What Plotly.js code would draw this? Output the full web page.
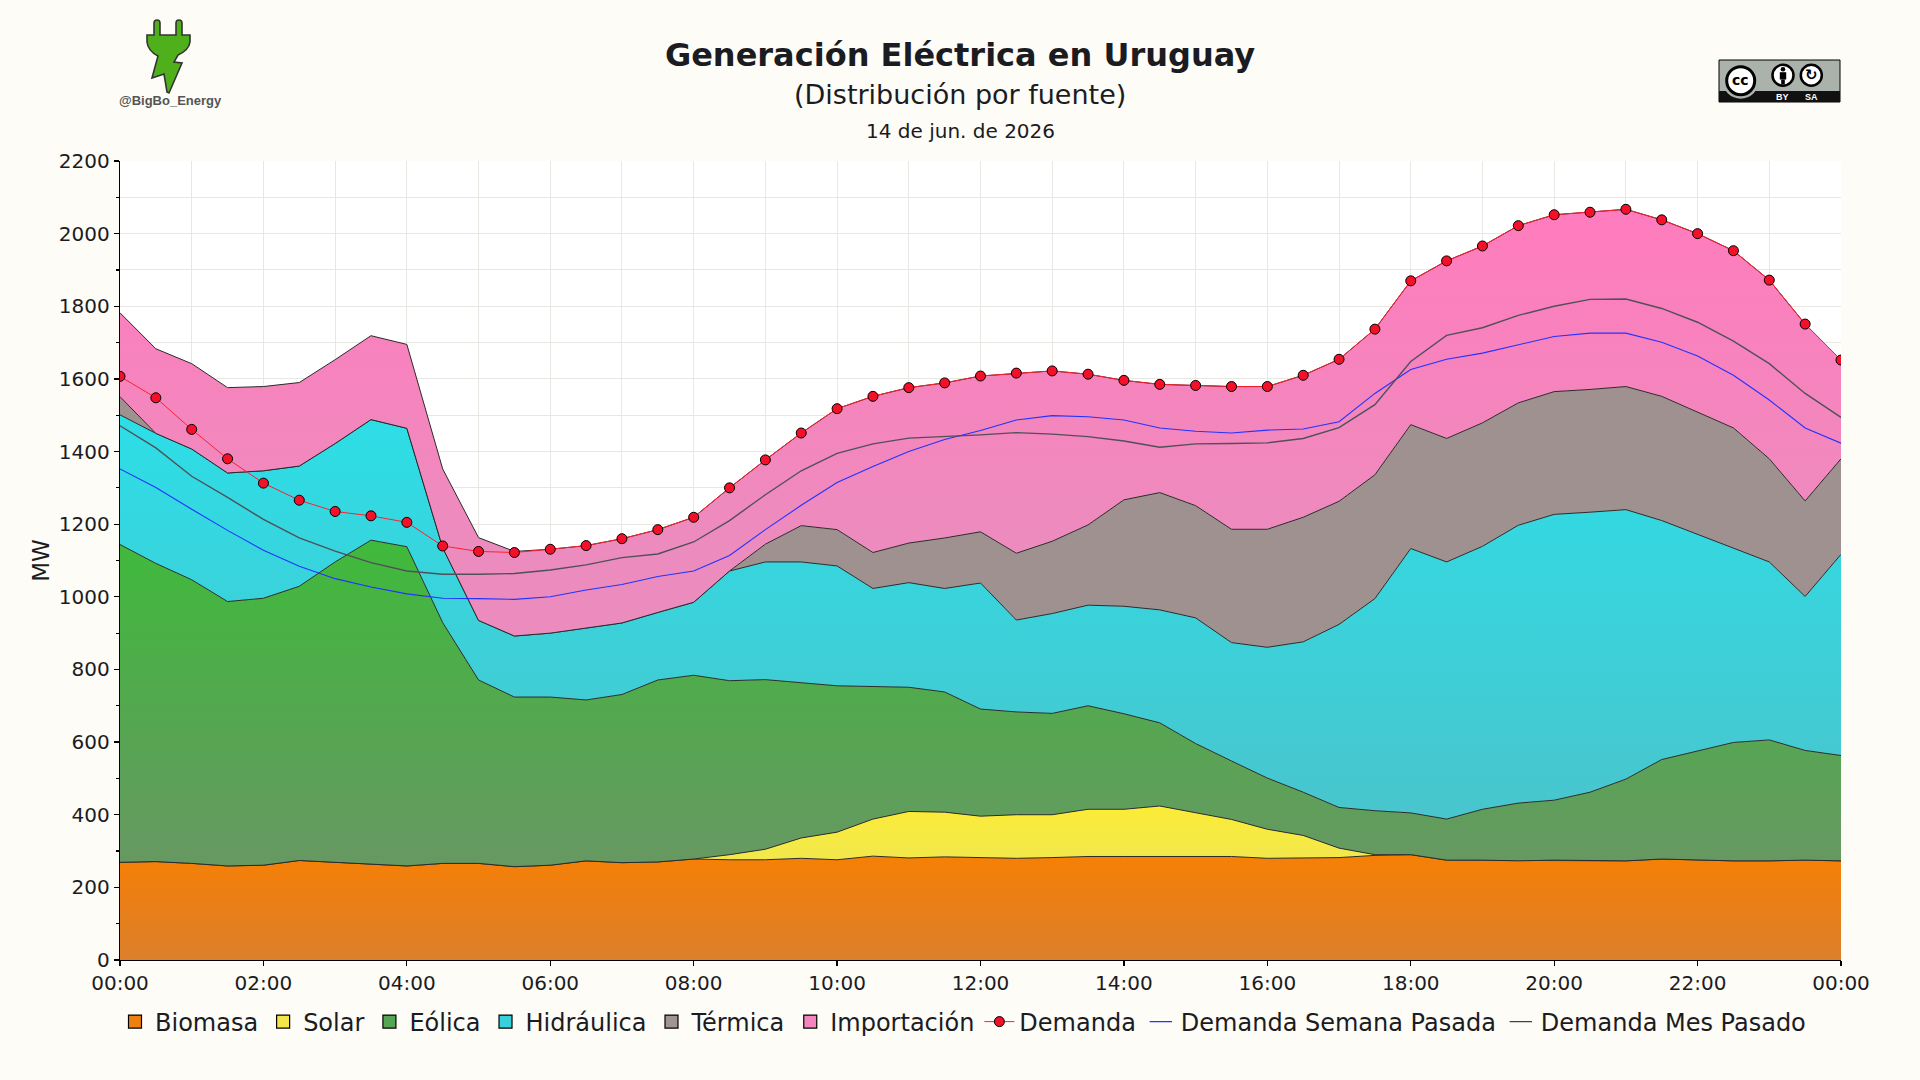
<!DOCTYPE html>
<html>
<head>
<meta charset="utf-8">
<script src="https://cdn.plot.ly/plotly-3.0.1.min.js"></script>
<style>
  html, body { margin: 0; padding: 0; background: #FDFCF7; }
  #chart { width: 1920px; height: 1080px; }
</style>
</head>
<body>
<div id="chart"></div>
<script>
// ---- Data (MW, every 30 minutes) ----
const times = ['00:00','00:30','01:00','01:30','02:00','02:30','03:00','03:30','04:00','04:30',
               '05:00','05:30','06:00','06:30','07:00','07:30','08:00','08:30','09:00','09:30',
               '10:00','10:30','11:00','11:30','12:00','12:30','13:00','13:30','14:00','14:30',
               '15:00','15:30','16:00','16:30','17:00','17:30','18:00','18:30','19:00','19:30',
               '20:00','20:30','21:00','21:30','22:00','22:30','23:00','23:30','24:00'];

const biomasa = [269,271,266,259,261,274,269,264,259,266,
                 266,257,261,273,268,270,278,276,276,280,
                 276,286,281,284,281,280,282,285,285,285,
                 285,285,280,282,282,288,290,275,275,273,
                 275,275,273,278,275,273,273,275,273];

const solar = [0,0,0,0,0,0,0,0,0,0,
               0,0,0,0,0,0,0,14,29,56,
               76,102,128,123,115,120,118,130,130,139,
               120,102,80,61,26,2,0,0,0,0,
               0,0,0,0,0,0,0,0,0];

const eolica = [875,821,781,728,735,755,827,892,879,663,
                505,467,463,443,463,501,506,479,467,428,
                403,365,342,331,295,283,279,285,263,229,
                191,161,141,119,112,121,115,113,140,159,
                165,187,225,274,301,326,333,302,290];

const hidraulica = [357,358,360,354,351,331,326,332,326,206,
                    164,168,176,199,197,186,201,302,324,332,
                    330,270,288,285,347,253,275,277,296,311,
                    346,326,360,414,504,584,728,708,724,765,
                    787,771,742,658,596,534,490,424,554];

const termica = [50,0,0,0,0,0,0,0,0,0,
                 0,0,0,0,0,0,0,0,49,100,
                 100,99,109,139,141,184,199,221,293,323,
                 309,312,325,343,339,341,341,340,340,337,
                 338,338,339,342,336,332,284,263,263];

const importacion = [231,233,235,235,232,230,231,231,231,217,
                     228,233,231,226,232,228,234,229,232,255,
                     333,430,428,427,429,496,469,415,329,298,
                     331,393,393,391,391,401,396,489,487,488,
                     487,488,488,486,492,488,492,487,272];

const demanda = [1607,1548,1461,1380,1313,1266,1235,1223,1205,1140,
                 1125,1122,1131,1141,1160,1185,1219,1300,1377,1451,
                 1518,1552,1576,1589,1608,1616,1622,1613,1596,1585,
                 1582,1579,1579,1610,1654,1737,1870,1925,1966,2022,
                 2052,2059,2067,2038,2000,1953,1872,1751,1652];

const semanaPasada = [1352,1301,1241,1183,1128,1084,1050,1027,1008,996,
                      995,993,1000,1019,1034,1056,1071,1114,1185,1252,
                      1315,1359,1400,1433,1458,1487,1499,1496,1487,1465,
                      1456,1451,1459,1462,1482,1560,1626,1654,1671,1693,
                      1717,1726,1726,1701,1663,1610,1542,1465,1423];

const mesPasado = [1471,1410,1332,1274,1213,1162,1126,1094,1071,1062,
                   1062,1064,1074,1088,1108,1118,1151,1210,1281,1347,
                   1395,1421,1437,1441,1446,1452,1448,1441,1429,1412,
                   1421,1422,1424,1436,1466,1529,1648,1720,1741,1775,
                   1800,1819,1820,1794,1756,1704,1642,1560,1494];

const tickVals = [0,2,4,6,8,10,12,14,16,18,20,22,24];
const tickText = ['00:00','02:00','04:00','06:00','08:00','10:00','12:00','14:00','16:00','18:00','20:00','22:00','00:00'];

// x positions in hours parsed from the time labels
const hours = times.map(t => { const p = t.split(':'); return +p[0] + (+p[1]) / 60; });

// ---- Layout geometry helpers (pixels -> paper) ----
const L = 120, R = 1841, T = 161, B = 960;
const fx = px => (px - L) / (R - L);
const fy = py => (B - py) / (B - T);
const pxPath = s => s.replace(/(-?\d+\.?\d*),(-?\d+\.?\d*)/g,
  (m, a, b) => fx(+a).toFixed(5) + ',' + fy(+b).toFixed(5));
const circ = (cx, cy, r, fill, lineColor, lw) => ({
  type: 'circle', xref: 'paper', yref: 'paper',
  x0: fx(cx - r), x1: fx(cx + r), y0: fy(cy + r), y1: fy(cy - r),
  fillcolor: fill, line: { color: lineColor || fill, width: lw || 0 }, layer: 'above'
});
const rectPx = (x0, y0, x1, y1, fill, lineColor, lw) => ({
  type: 'rect', xref: 'paper', yref: 'paper',
  x0: fx(x0), x1: fx(x1), y0: fy(y1), y1: fy(y0),
  fillcolor: fill, line: { color: lineColor || fill, width: lw || 0 }, layer: 'above'
});

const FONT = 'DejaVu Sans, Verdana, sans-serif';
const edge = { color: '#2a2a2a', width: 1 };

function area(name, y, c0, c1, start, stop) {
  return {
    type: 'scatter', mode: 'lines', name: name, x: hours, y: y,
    stackgroup: 'gen', line: edge, fillcolor: c1,
    fillgradient: { type: 'vertical', colorscale: [[0, c0], [1, c1]], start: start, stop: stop },
    showlegend: false, legendgroup: name
  };
}
// legend-only square swatch (no data)
function swatch(name, color, rank) {
  return {
    type: 'scatter', mode: 'markers', name: name, x: [null], y: [null],
    marker: { symbol: 'square', size: 13, color: color, line: { color: '#000000', width: 1.2 } },
    legendrank: rank, legendgroup: name
  };
}
function lineSwatch(name, color, width, rank) {
  return {
    type: 'scatter', mode: 'markers', name: name, x: [null], y: [null],
    marker: { symbol: 'line-ew', size: 16, color: color, line: { color: color, width: width } },
    legendrank: rank, legendgroup: name
  };
}

const traces = [
  area('Biomasa', biomasa, '#DC7F2C', '#F68005', 0, 290),
  area('Solar', solar, '#F2E84C', '#FCEC36', 280, 430),
  area('Eólica', eolica, '#679862', '#3FBA3B', 260, 1160),
  area('Hidráulica', hidraulica, '#4BC3CB', '#2DDEE7', 300, 1500),
  area('Térmica', termica, '#9E918F', '#A0918F', 900, 1600),
  area('Importación', importacion, '#EC8CBE', '#FF7CBD', 1100, 2070),
  {
    type: 'scatter', mode: 'lines', name: 'Demanda Semana Pasada', x: hours, y: semanaPasada,
    line: { color: '#2233FF', width: 1.1 }, showlegend: false
  },
  {
    type: 'scatter', mode: 'lines', name: 'Demanda Mes Pasado', x: hours, y: mesPasado,
    line: { color: '#505058', width: 1.4 }, showlegend: false
  },
  {
    type: 'scatter', mode: 'lines+markers', name: 'Demanda', x: hours, y: demanda,
    line: { color: '#FF1F2E', width: 1 },
    marker: { color: '#F5102A', size: 10, line: { color: '#000000', width: 1 } },
    legendrank: 7
  },
  swatch('Biomasa', '#EE8012', 1),
  swatch('Solar', '#F4E54A', 2),
  swatch('Eólica', '#55A553', 3),
  swatch('Hidráulica', '#38D0DA', 4),
  swatch('Térmica', '#A09593', 5),
  swatch('Importación', '#F585BF', 6),
  lineSwatch('Demanda Semana Pasada', '#2233FF', 1.3, 8),
  lineSwatch('Demanda Mes Pasado', '#404048', 1.3, 9)
];

// Plug logo (decoration)
const plugPath = pxPath('M154,35 L154,23 Q154,20 157,20 Q160,20 160,23 L160,35 L176,35 L176,23 Q176,20 179,20 Q182,20 182,23 L182,35 L190,35 L190,42 Q189,50 178,55 L174,62 L182,63 L169,93 L167,92 L164,74 L152,78 L158,56 Q148,51 147,42 L147,35 Z');

const shapes = [
  { type: 'path', xref: 'paper', yref: 'paper', path: plugPath,
    fillcolor: '#50B01C', line: { color: '#333333', width: 1.6 }, layer: 'above' },
  // CC BY-SA badge
  rectPx(1719, 60, 1840, 102, '#ABB2AB', '#000000', 1),
  rectPx(1719, 91, 1840, 102, '#111111'),
  circ(1740.7, 80.7, 18, '#ABB2AB'),
  circ(1740.7, 80.7, 14, '#FFFFFF', '#000000', 3),
  circ(1783, 75.3, 10.5, '#FFFFFF', '#000000', 2.5),
  circ(1783, 69.3, 2.3, '#000000'),
  rectPx(1779.8, 72.2, 1786.2, 79.5, '#000000'),
  rectPx(1781.2, 79.5, 1784.8, 84.5, '#000000'),
  circ(1811.3, 75.3, 10.5, '#FFFFFF', '#000000', 2.5)
];

const annotations = [
  { xref: 'paper', yref: 'paper', x: fx(960), y: fy(95), text: '(Distribución por fuente)',
    showarrow: false, xanchor: 'center', yanchor: 'middle',
    font: { family: FONT, size: 27, color: '#1b1b22' } },
  { xref: 'paper', yref: 'paper', x: fx(960), y: fy(131), text: '14 de jun. de 2026',
    showarrow: false, xanchor: 'center', yanchor: 'middle',
    font: { family: FONT, size: 20, color: '#1b1b22' } },
  { xref: 'paper', yref: 'paper', x: fx(170), y: fy(100), text: '<b>@BigBo_Energy</b>',
    showarrow: false, xanchor: 'center', yanchor: 'middle',
    font: { family: 'Liberation Sans, Arial, sans-serif', size: 13, color: '#555555' } },
  { xref: 'paper', yref: 'paper', x: fx(1740.7), y: fy(80), text: '<b>cc</b>',
    showarrow: false, xanchor: 'center', yanchor: 'middle',
    font: { family: FONT, size: 14, color: '#000000' } },
  { xref: 'paper', yref: 'paper', x: fx(1811.3), y: fy(75), text: '<b>↻</b>',
    showarrow: false, xanchor: 'center', yanchor: 'middle',
    font: { family: FONT, size: 15, color: '#000000' } },
  { xref: 'paper', yref: 'paper', x: fx(1782.5), y: fy(96.7), text: '<b>BY</b>',
    showarrow: false, xanchor: 'center', yanchor: 'middle',
    font: { family: 'Liberation Sans, Arial, sans-serif', size: 9, color: '#FFFFFF' } },
  { xref: 'paper', yref: 'paper', x: fx(1811), y: fy(96.7), text: '<b>SA</b>',
    showarrow: false, xanchor: 'center', yanchor: 'middle',
    font: { family: 'Liberation Sans, Arial, sans-serif', size: 9, color: '#FFFFFF' } }
];

const GRID = '#E8E7E1';

const layout = {
  width: 1920, height: 1080,
  paper_bgcolor: '#FDFCF7', plot_bgcolor: '#FFFFFF',
  margin: { l: L, r: 1920 - R, t: T, b: 1080 - B, pad: 0 },
  font: { family: FONT, color: '#1b1b22' },
  title: {
    text: '<b>Generación Eléctrica en Uruguay</b>',
    font: { family: FONT, size: 32, color: '#1b1b22' },
    x: 0.5, xref: 'container', xanchor: 'center',
    y: 1 - 55 / 1080, yref: 'container', yanchor: 'middle'
  },
  xaxis: {
    range: [0, 24], tickmode: 'array', tickvals: tickVals, ticktext: tickText,
    ticks: 'outside', ticklen: 5, tickwidth: 1.2, tickcolor: '#000',
    showline: true, linecolor: '#000', linewidth: 1.3,
    showgrid: true, gridcolor: GRID, gridwidth: 1, zeroline: false,
    tickfont: { family: FONT, size: 20, color: '#1b1b22' },
    minor: { tickmode: 'linear', tick0: 0, dtick: 1, showgrid: true, gridcolor: GRID, gridwidth: 1, ticks: '' },
    fixedrange: true
  },
  yaxis: {
    range: [0, 2200], dtick: 200, tick0: 0,
    ticks: 'outside', ticklen: 5, tickwidth: 1.2, tickcolor: '#000',
    showline: true, linecolor: '#000', linewidth: 1.3,
    showgrid: true, gridcolor: GRID, gridwidth: 1, zeroline: false,
    tickfont: { family: FONT, size: 20, color: '#1b1b22' },
    minor: { dtick: 100, ticks: 'outside', ticklen: 3, tickcolor: '#000', showgrid: true, gridcolor: GRID, gridwidth: 1 },
    title: { text: 'MW', font: { family: FONT, size: 23, color: '#1b1b22' }, standoff: 2 },
    fixedrange: true
  },
  showlegend: true,
  legend: {
    orientation: 'h', x: fx(963), xanchor: 'center', y: fy(1022), yanchor: 'middle',
    font: { family: FONT, size: 24, color: '#1b1b22' },
    bgcolor: 'rgba(0,0,0,0)', itemwidth: 30, traceorder: 'normal', tracegroupgap: 0
  },
  shapes: shapes,
  annotations: annotations,
  hovermode: false
};

Plotly.newPlot('chart', traces, layout, { displayModeBar: false, staticPlot: true });
</script>
</body>
</html>
